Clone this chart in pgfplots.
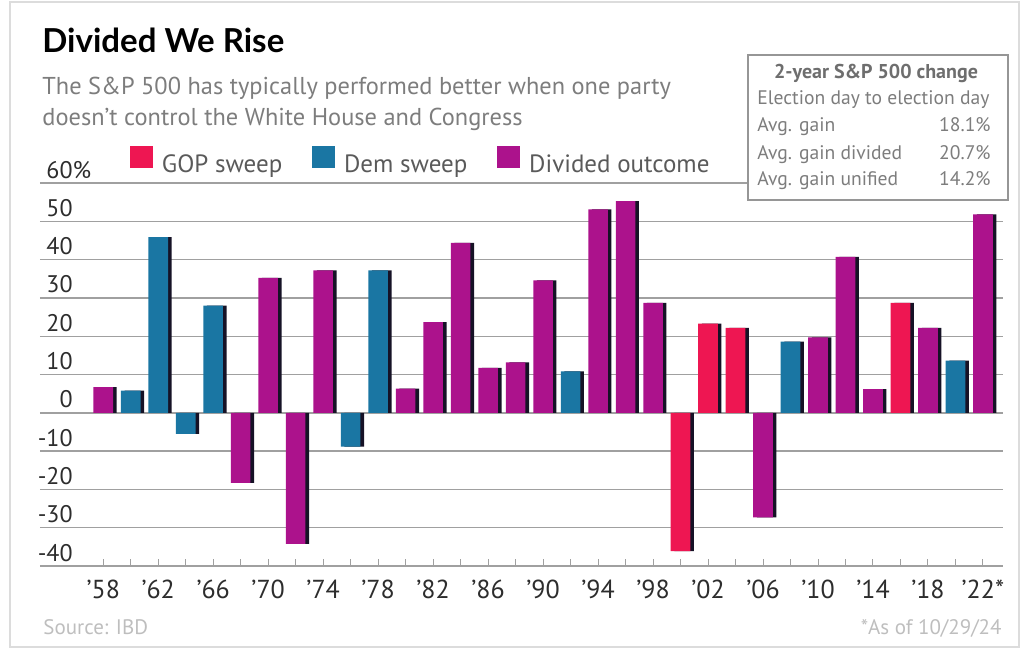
\documentclass[border=0pt]{standalone}
\usepackage{pgfplots}
\pgfplotsset{compat=1.18}
\usepackage{pgfplotstable}
\usepackage{fontspec}
\setmainfont{PT Sans}
\newfontfamily\titlefont{Lato}
\definecolor{gopc}{RGB}{238,22,82}
\definecolor{demc}{RGB}{26,118,163}
\definecolor{divc}{RGB}{172,18,140}
\definecolor{shad}{RGB}{22,18,38}
\definecolor{gridc}{RGB}{160,160,160}
\definecolor{labc}{RGB}{45,45,45}
\definecolor{subc}{RGB}{125,125,125}
\definecolor{legc}{RGB}{90,90,90}
\definecolor{boxc}{RGB}{150,150,150}
\definecolor{boxt}{RGB}{110,110,110}
\definecolor{srcc}{RGB}{190,190,190}
\definecolor{framec}{RGB}{220,220,220}

% x = election index ((year-1958)/2), y = 2-year S&P 500 change (%)
\pgfplotstableread{
x y
21 -36.1
22 23.3
23 22.2
29 28.7
}\gop
\pgfplotstableread{
x y
1 5.8
2 45.9
3 -5.5
4 28.0
9 -8.8
10 37.2
17 10.8
25 18.6
31 13.6
}\dem
\pgfplotstableread{
x y
0 6.7
5 -18.3
6 35.2
7 -34.2
8 37.2
11 6.3
12 23.7
13 44.4
14 11.7
15 13.2
16 34.6
18 53.1
19 55.3
20 28.7
24 -27.3
26 19.7
27 40.7
28 6.2
30 22.2
32 51.8
}\divd

\begin{document}
\begin{tikzpicture}
\begin{axis}[
  name=ax,
  scale only axis, width=481.5pt, height=191.5pt,
  xmin=-2.3, xmax=32.73, ymin=-40, ymax=60,
  clip=false,
  axis line style={draw=none},
  ymajorgrids, grid style={gridc, line width=0.7pt},
  ytick={-40,-30,...,60},
  yticklabels={-40,-30,-20,-10,0,10,20,30,40,50,60\rlap{\%}},
  yticklabel style={anchor=base east, inner sep=0pt, xshift=16.5pt, yshift=2.5pt, font=\fontsize{12}{14}\selectfont, text=labc},
  ytick style={draw=none},
  xtick={0,...,32},
  xticklabels={’58,,’62,,’66,,’70,,’74,,’78,,’82,,’86,,’90,,’94,,’98,,’02,,’06,,’10,,’14,,’18,,’22*},
  xtick pos=bottom, tick align=inside, major tick length=3.5pt,
  xtick style={gridc, line width=0.5pt},
  xticklabel style={anchor=base, inner sep=0pt, yshift=-16pt, font=\fontsize{13}{15}\selectfont, text=labc},
  legend columns=3,
  legend style={at={(0.087,1.052)}, anchor=west, draw=none, fill=none,
    font=\fontsize{12.5}{14}\selectfont, text=legc,
    /tikz/every odd column/.append style={column sep=2.5pt},
    /tikz/every even column/.append style={column sep=13pt}},
]
\addplot[ybar, bar width=9.8pt, bar shift=1.8pt, fill=shad, draw=none, forget plot] table {\gop};
\addplot[ybar, bar width=9.8pt, bar shift=1.8pt, fill=shad, draw=none, forget plot] table {\dem};
\addplot[ybar, bar width=9.8pt, bar shift=1.8pt, fill=shad, draw=none, forget plot] table {\divd};
\addplot[ybar, bar width=9.8pt, bar shift=0pt, fill=gopc, draw=none, forget plot] table {\gop};
\addplot[ybar, bar width=9.8pt, bar shift=0pt, fill=demc, draw=none, forget plot] table {\dem};
\addplot[ybar, bar width=9.8pt, bar shift=0pt, fill=divc, draw=none, forget plot] table {\divd};
\addlegendimage{legend image code/.code={\fill[gopc] (0pt,-1pt) rectangle (11pt,9.5pt);}}
\addlegendentry{GOP sweep}
\addlegendimage{legend image code/.code={\fill[demc] (0pt,-1pt) rectangle (11pt,9.5pt);}}
\addlegendentry{Dem sweep}
\addlegendimage{legend image code/.code={\fill[divc] (0pt,-1pt) rectangle (11pt,9.5pt);}}
\addlegendentry{Divided outcome}
\end{axis}

\path (ax.south west) ++(-20pt,-41.5pt) coordinate (O);
\begin{scope}[shift={(O)}, x=0.5pt, y=0.5pt]
\draw[framec, line width=0.8pt] (10,2) rectangle (1019,647);
\path (0,0) rectangle (1021,649);

\node[anchor=base west, inner sep=0pt, font=\titlefont\bfseries\fontsize{16.5}{18}\selectfont, text=black] at (42,596) {Divided We Rise};
\node[anchor=base west, inner sep=0pt, font=\fontsize{12.2}{14}\selectfont, text=subc] at (42,554) {The S\&P 500 has typically performed better when one party};
\node[anchor=base west, inner sep=0pt, font=\fontsize{12.2}{14}\selectfont, text=subc] at (42,523) {doesn’t control the White House and Congress};

\draw[boxc, line width=0.75pt, fill=white] (748,449) rectangle (1008,594);
\node[anchor=base, inner sep=0pt, font=\bfseries\fontsize{10}{12}\selectfont, text=boxt] at (876,570) {2-year S\&P 500 change};
\node[anchor=base west, inner sep=0pt, font=\fontsize{9.8}{12}\selectfont, text=subc] at (757,544) {Election day to election day};
\node[anchor=base west, inner sep=0pt, font=\fontsize{9.8}{12}\selectfont, text=subc] at (757,517) {Avg. gain};
\node[anchor=base east, inner sep=0pt, font=\fontsize{9.8}{12}\selectfont, text=subc] at (991,517) {18.1\%};
\node[anchor=base west, inner sep=0pt, font=\fontsize{9.8}{12}\selectfont, text=subc] at (757,490) {Avg. gain divided};
\node[anchor=base east, inner sep=0pt, font=\fontsize{9.8}{12}\selectfont, text=subc] at (991,490) {20.7\%};
\node[anchor=base west, inner sep=0pt, font=\fontsize{9.8}{12}\selectfont, text=subc] at (757,463) {Avg. gain unified};
\node[anchor=base east, inner sep=0pt, font=\fontsize{9.8}{12}\selectfont, text=subc] at (991,463) {14.2\%};

\node[anchor=base west, inner sep=0pt, font=\fontsize{10.5}{12}\selectfont, text=srcc] at (43,15) {Source: IBD};
\node[anchor=base east, inner sep=0pt, font=\fontsize{10.5}{12}\selectfont, text=srcc] at (1002,15) {*As of 10/29/24};
\end{scope}
\end{tikzpicture}
\end{document}
